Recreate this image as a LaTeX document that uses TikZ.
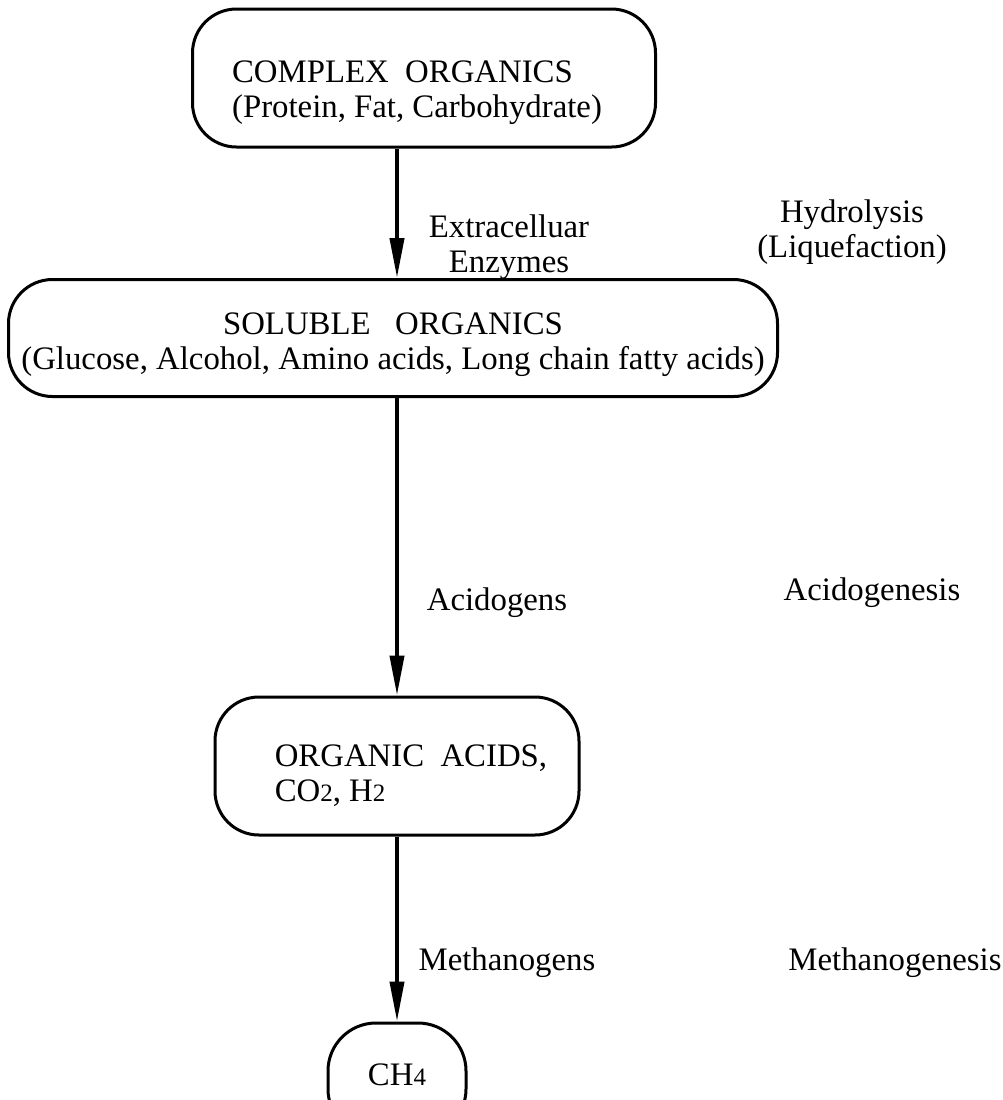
\documentclass[tikz,border=0pt]{standalone}
\usepackage{fontspec}
\setmainfont{Liberation Serif}
\usepackage{tikz}
\usetikzlibrary{arrows.meta}
\newcommand{\smalldigit}[1]{{\fontsize{12.5}{12.5}\selectfont #1}}
% box text: #1 drop, #2 side shift, #3 column, #4 lines
\newcommand{\boxlines}[4]{\raisebox{-#1}[\height][\depth]{\kern#2%
	\setbox\strutbox\hbox{\vrule height 12.2pt depth 5.3pt width 0pt}%
	\begin{tabular}{@{}#3@{}}#4\end{tabular}\kern-#2}}
\begin{document}
\begin{tikzpicture}[x=0.5pt,y=-0.5pt]
				\useasboundingbox (0,0) rectangle (1003,1100);
				\clip (0,0) rectangle (1003,1100);
				\begin{scope}[every node/.style = {rectangle, rounded corners=22pt, draw, line width=1.5pt,
						inner sep=0pt, font=\fontsize{16.4}{17.5}\selectfont}]
					\node[minimum width=231.5pt, minimum height=69pt] (B1) at (424,78)
						{\boxlines{7.5pt}{-3.5pt}{l}{COMPLEX~~ORGANICS\\(Protein, Fat, Carbohydrate)}};
					\node[minimum width=384.5pt, minimum height=58.5pt] (B2) at (393,338)
						{\boxlines{3.5pt}{0pt}{c}{SOLUBLE~~~ORGANICS\\(Glucose, Alcohol, Amino acids, Long chain fatty acids)}};
					\node[minimum width=182pt, minimum height=69pt] (B3) at (397,766)
						{\boxlines{5.5pt}{7pt}{l}{ORGANIC~~ACIDS,\\CO\smalldigit{2}, H\smalldigit{2}}};
					\node[minimum width=69pt, minimum height=57pt, rounded corners=24pt] (B4) at (397,1080)
						{\raisebox{5pt}{CH\smalldigit{4}}};
				\end{scope}
				\begin{scope}[every node/.style = {inner sep=0pt, align=center,
						font=\fontsize{16.4}{17.5}\selectfont}]
					\node (L1) at (509,247) {Extracelluar\\Enzymes};
					\node (R1) at (852,232) {Hydrolysis\\(Liquefaction)};
					\node (L2) at (497,603) {Acidogens};
					\node (R2) at (872,593) {Acidogenesis};
					\node (L3) at (507,963) {Methanogens};
					\node[anchor=east] (R3) at (1002,963) {Methanogenesis};
				\end{scope}
				\begin{scope}[>={Triangle[length=20pt, width=7pt, black]},
						every edge/.style={draw=black, line width=2pt}]
					\path [->] (B1.south -| B3.north) edge (B2.north -| B3.north);
					\path [->] (B2.south -| B3.north) edge (B3.north);
					\path [->] (B3.south) edge (B4.north);
				\end{scope}
			\end{tikzpicture}
\end{document}
